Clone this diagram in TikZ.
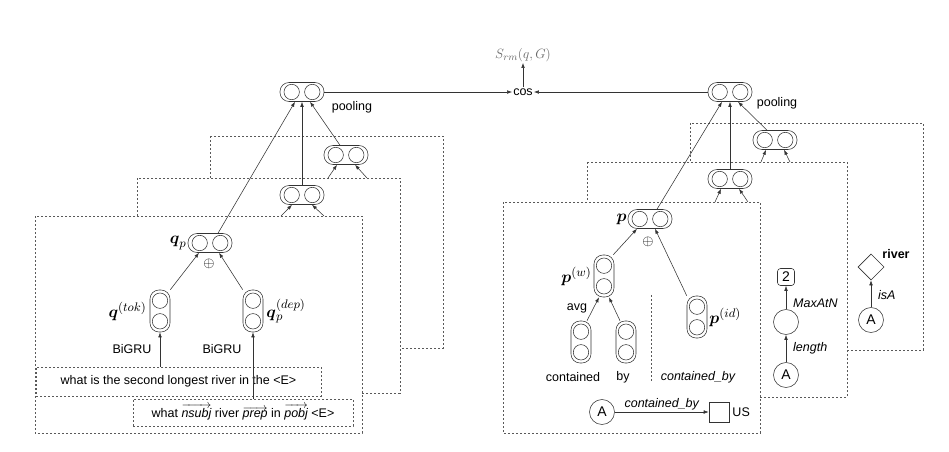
\documentclass[tikz,border=0pt]{standalone}
\usepackage{amsmath}
\usepackage{graphicx}
\usepackage{fontspec}
\setmainfont{Liberation Sans}
\usetikzlibrary{arrows.meta,shapes.geometric,calc}
\newcommand{\mlab}[1]{\scalebox{1.38}{$#1$}}
\begin{document}
\begin{tikzpicture}[x=1pt,y=-1pt,font=\fontsize{12.5}{15}\selectfont,
  ln/.style={draw=black!80,line width=0.55pt},
  arr/.style={ln,-{Latex[length=5pt,width=3.6pt]}},
  dbox/.style={draw=black!65,dash pattern=on 2.2pt off 1.8pt,line width=0.6pt,fill=white},
  hvec/.style={draw=black!80,line width=0.55pt,rounded corners=9pt,minimum width=44pt,minimum height=19pt,inner sep=0pt,
    path picture={\draw[black!80,line width=0.55pt] ([xshift=-10.3pt]path picture bounding box.center) circle[radius=7.7pt]
      ([xshift=10.3pt]path picture bounding box.center) circle[radius=7.7pt];}},
  vvec/.style={draw=black!80,line width=0.55pt,rounded corners=9pt,minimum width=20pt,minimum height=42pt,inner sep=0pt,
    path picture={\draw[black!80,line width=0.55pt] ([yshift=-10.3pt]path picture bounding box.center) circle[radius=7.7pt]
      ([yshift=10.3pt]path picture bounding box.center) circle[radius=7.7pt];}},
  ent/.style={circle,draw=black!80,line width=0.55pt,minimum size=25pt,inner sep=0pt,font=\fontsize{14}{16}\selectfont},
  lbl/.style={inner sep=1pt},
  mlbl/.style={inner sep=1pt},
  ilbl/.style={inner sep=1pt,font=\fontsize{12.5}{15}\selectfont\itshape},
  sbox/.style={draw=black!65,dash pattern=on 2.2pt off 1.8pt,line width=0.6pt,inner sep=2pt}
]
\useasboundingbox (0,0) rectangle (949,451);

% ---------- left side ----------
\draw[dbox] (210,136) rectangle (443,348);
\node[hvec] (nL3) at (346,155) {};
\draw[dbox] (137,178) rectangle (400,393);
\coordinate (l3a) at (328,178); \coordinate (l3b) at (367,178);
\draw[arr] (l3a) -- ([xshift=-9pt]nL3.south);
\draw[arr] (l3b) -- ([xshift=9pt]nL3.south);
\node[hvec] (nL2) at (302,195) {};
\draw[dbox] (35,216) rectangle (362,433);
\coordinate (l2a) at (281,216); \coordinate (l2b) at (324,216);
\draw[arr] (l2a) -- ([xshift=-10pt]nL2.south);
\draw[arr] (l2b) -- ([xshift=10pt]nL2.south);

\node[hvec] (poolL) at (302,92) {};
\node[lbl] (poolLt) at (352,107) {pooling};

\node[hvec] (qp) at (210,243) {};
\node[mlbl,anchor=east] (qpl) at (qp.west) {\mlab{\boldsymbol{q}_p}};
\node[inner sep=0pt] (opL) at (209,264) {\scalebox{1.2}{$\oplus$}};
\node[vvec] (qtok) at (160,311) {};
\node[mlbl,anchor=east] (qtokl) at ([xshift=-2pt]qtok.west) {\mlab{\boldsymbol{q}^{(tok)}}};
\node[vvec] (qdep) at (253,311) {};
\node[mlbl,anchor=west] (qdepl) at ([xshift=2pt]qdep.east) {\mlab{\boldsymbol{q}_p^{(dep)}}};
\draw[arr] (qtok.north east) -- ([xshift=-11pt]qp.south);
\draw[arr] (qdep.north west) -- ([xshift=9pt]qp.south);
\node[lbl] (bg1) at (132,349) {BiGRU};
\node[lbl] (bg2) at (222,349) {BiGRU};

\node[sbox,minimum width=285pt,minimum height=29pt] (s1) at (178.5,381.5) {what is the second longest river in the <E>};
\node[sbox,minimum width=220pt,minimum height=27pt] (s2) at (243,412.5)
  {what $\overrightarrow{\text{\itshape nsubj}}$ river $\overrightarrow{\text{\itshape prep}}$ in $\overrightarrow{\text{\itshape pobj}}$ <E>};
\draw[arr] (qtok.south |- s1.north) -- (qtok.south);
\draw[arr] (qdep.south |- s2.north) -- (qdep.south);

\draw[arr] ([xshift=8pt]qp.north) -- ([xshift=-7pt]poolL.south);
\draw[arr] (nL2.north) -- (poolL.south);
\draw[arr] ([xshift=-6pt]nL3.north) -- ([xshift=8pt]poolL.south);

% ---------- middle ----------
\node[lbl] (cos) at (523,92) {cos};
\node[lbl,text=black!60] (S) at (523,55) {\scalebox{1.12}{$S_{rm}(q,G)$}};
\draw[arr] (cos.north) -- (S.south);

% ---------- right side ----------
\draw[dbox] (690,123) rectangle (923,350);
\node[hvec] (nR3) at (775,140) {};
\draw[dbox] (587,162) rectangle (847,397);
\coordinate (r3a) at (761,162); \coordinate (r3b) at (790,162);
\draw[arr] (r3a) -- ([xshift=-9pt]nR3.south);
\draw[arr] (r3b) -- ([xshift=9pt]nR3.south);
\node[hvec] (nR2) at (730,179) {};
\draw[dbox] (503,202) rectangle (760,433);
\coordinate (r2a) at (715,202); \coordinate (r2b) at (748,202);
\draw[arr] (r2a) -- ([xshift=-9pt]nR2.south);
\draw[arr] (r2b) -- ([xshift=9pt]nR2.south);

\node[hvec] (poolR) at (730,92) {};
\node[lbl] (poolRt) at (777,103) {pooling};
\draw[arr] (poolL.east) -- (cos.west);
\draw[arr] (poolR.west) -- (cos.east);

\node[hvec] (p) at (650,219) {};
\node[mlbl,anchor=east] (pl) at (p.west) {\mlab{\boldsymbol{p}}};
\node[inner sep=0pt] (opR) at (648,242) {\scalebox{1.2}{$\oplus$}};
\draw[arr] ([xshift=7pt]p.north) -- ([xshift=-8pt]poolR.south);
\draw[arr] (nR2.north) -- (poolR.south);
\draw[arr] ([xshift=-8pt]nR3.north) -- ([xshift=8pt]poolR.south);

\node[vvec] (pw) at (604,276) {};
\node[mlbl,anchor=east] (pwl) at ([xshift=-1pt]pw.west) {\mlab{\boldsymbol{p}^{(w)}}};
\node[vvec] (pid) at (697,317) {};
\node[mlbl,anchor=west] (pidl) at ([xshift=1pt]pid.east) {\mlab{\boldsymbol{p}^{(id)}}};
\draw[arr] ([xshift=-1pt]pw.north east) -- ([xshift=-13pt]p.south);
\draw[arr] (pid.north west) -- ([xshift=5pt]p.south);
\node[lbl] (avg) at (577,308) {avg};

\node[vvec] (wc) at (581,342) {};
\node[vvec] (wb) at (626,342) {};
\draw[arr] ([xshift=6pt]wc.north) -- ([xshift=-5pt]pw.south);
\draw[arr] ([xshift=-6pt]wb.north) -- ([xshift=5pt]pw.south);
\node[lbl] (wcl) at (573,377) {contained};
\node[lbl] (wbl) at (623,377) {by};
\coordinate (dv1) at (651,295); \coordinate (dv2) at (651,382);
\draw[draw=black!65,dash pattern=on 2.2pt off 1.8pt,line width=0.6pt] (dv1) -- (dv2);
\node[ilbl] (cbl) at (698,377) {contained\_by};

\node[ent] (A1) at (602,412) {A};
\node[draw=black!80,line width=0.55pt,minimum size=20pt,inner sep=0pt] (US) at (719,412) {};
\node[lbl,anchor=west] (USl) at ([xshift=2pt]US.east) {US};
\draw[arr] (A1) -- node[ilbl,above=1pt] (cbe) {contained\_by} (US);

\node[draw=black!80,line width=0.55pt,rounded corners=3pt,minimum width=17pt,minimum height=17pt,inner sep=0pt,font=\fontsize{14}{16}\selectfont] (two) at (786,277) {2};
\node[ent] (mc) at (786,322) {};
\node[ent] (A2) at (786,375) {A};
\draw[arr] (A2) -- (mc);
\draw[arr] (mc) -- (two);
\node[ilbl,anchor=west] (lenl) at (792,348) {length};
\node[ilbl,anchor=west] (maxl) at (792,303) {MaxAtN};

\node[diamond,draw=black!80,line width=0.55pt,minimum size=26pt,inner sep=0pt] (riv) at (871,267) {};
\node[lbl,font=\fontsize{12.5}{15}\selectfont\bfseries] (rivl) at (896,254) {river};
\node[ent] (A3) at (871,320) {A};
\draw[arr] (A3) -- (riv);
\node[ilbl,anchor=west] (isal) at (877,295) {isA};
\end{tikzpicture}
\end{document}
